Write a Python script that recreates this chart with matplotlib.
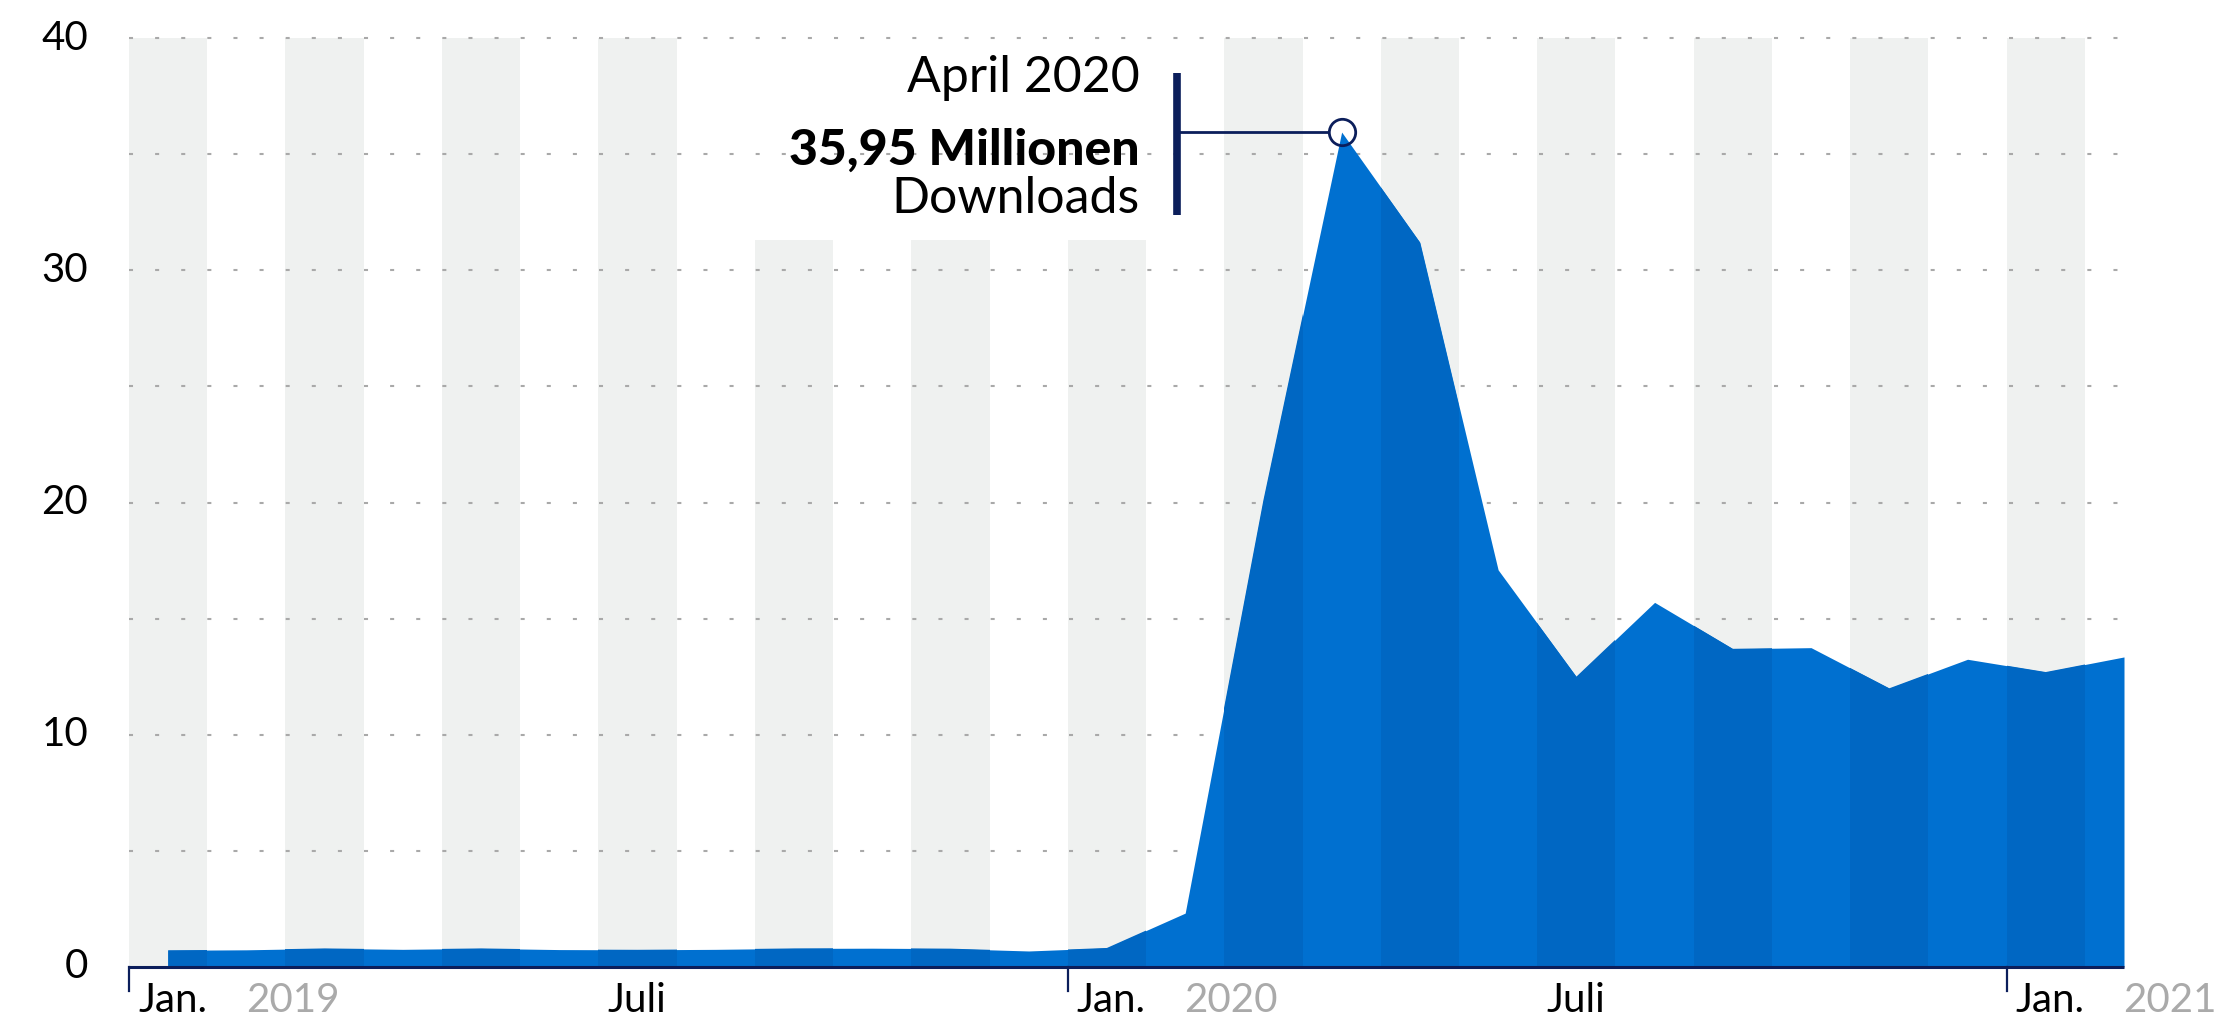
import numpy as np
import matplotlib.pyplot as plt
from matplotlib.transforms import blended_transform_factory

plt.rcParams['font.family'] = ['Lato', 'DejaVu Sans']
plt.rcParams['lines.scale_dashes'] = False

# Monthly downloads (millions), Jan 2019 - Feb 2021
months = ['2019-01', '2019-02', '2019-03', '2019-04', '2019-05', '2019-06',
          '2019-07', '2019-08', '2019-09', '2019-10', '2019-11', '2019-12',
          '2020-01', '2020-02', '2020-03', '2020-04', '2020-05', '2020-06',
          '2020-07', '2020-08', '2020-09', '2020-10', '2020-11', '2020-12',
          '2021-01', '2021-02']
downloads = [0.72, 0.74, 0.80, 0.76, 0.80, 0.75, 0.74, 0.76, 0.80, 0.81,
             0.79, 0.69, 0.82, 2.32, 20.1, 35.95, 31.2, 17.1, 12.5, 15.7,
             13.7, 13.75, 12.0, 13.25, 12.7, 13.35]

# shaded month columns (index of month start) and their top value
band_months = [0, 2, 4, 6, 8, 10, 12, 14, 16, 18, 20, 22, 24]
band_tops = [40, 40, 40, 40, 31.3, 31.3, 31.3, 40, 40, 40, 40, 40, 40]

y_ticks = [0, 10, 20, 30, 40]
grid_levels = [5, 10, 15, 20, 25, 30, 35, 40]
x_tick_pos = [0, 6, 12, 18, 24]
x_tick_month = ['Jan.', 'Juli', 'Jan.', 'Juli', 'Jan.']
x_tick_year = ['2019', '', '2020', '', '2021']

peak_label = ['April 2020', '35,95 Millionen', 'Downloads']

BLUE = '#0070d0'
BLUE_DARK = '#0067c3'
GREY_BAND = '#eff1f0'
NAVY = '#0b1e5b'
DOT = '#a9a9a9'

W, H = 2223, 1017
fig = plt.figure(figsize=(W / 100, H / 100), dpi=100)
ax = fig.add_axes([129 / W, 50 / H, 1995 / W, 929 / H])
x_end = len(months) - 0.5
ax.set_xlim(0, x_end)
ax.set_ylim(0, 40)
ax.axis('off')

# grey month columns
ax.bar(band_months, band_tops, width=1, align='edge', color=GREY_BAND,
       zorder=0, linewidth=0)

# dotted gridlines
for g in grid_levels:
    ax.plot([0, x_end], [g, g], color=DOT, lw=1.5, dashes=(2.9, 15.9),
            dash_capstyle='butt', zorder=1, clip_on=False)

# area
x = np.arange(len(downloads)) + 0.5
area = ax.fill_between(x, 0, downloads, color=BLUE, linewidth=0, zorder=2)
clip_path = area.get_paths()[0]
for m in band_months:
    r = ax.axvspan(m, m + 1, color=BLUE_DARK, linewidth=0, zorder=3)
    r.set_clip_path(clip_path, ax.transData)

# baseline axis + ticks
ax.plot([0, x_end], [0, 0], color=NAVY, lw=2.2, zorder=4, clip_on=False,
        solid_capstyle='butt')
bt = blended_transform_factory(ax.transData, ax.transAxes)
for p in x_tick_pos:
    if p in (0, 12, 24):
        ax.plot([p, p], [0, -24 / 929], color=NAVY, lw=1.6, transform=bt,
                clip_on=False, zorder=4)

# x labels
for p, mname, yr in zip(x_tick_pos, x_tick_month, x_tick_year):
    ax.annotate(mname, xy=(p, -45 / 929), xycoords=bt, xytext=(6.5, 0),
                textcoords='offset points', ha='left', va='baseline',
                fontsize=29, color='black')
    if yr:
        ax.annotate(yr, xy=(p, -45 / 929), xycoords=bt, xytext=(84, 0),
                    textcoords='offset points', ha='left', va='baseline',
                    fontsize=29, color='#aaaaaa')

# y labels
yt = blended_transform_factory(fig.transFigure, ax.transData)
for t in y_ticks:
    ax.text(88 / W, t, str(t), transform=yt, ha='right', va='center',
            fontsize=29, color='black')

# peak annotation
peak_i = int(np.argmax(downloads))
px, py = x[peak_i], downloads[peak_i]
bar_x = px - 2.1
ax.plot([bar_x, bar_x], [32.4, 38.5], color=NAVY, lw=5.5, zorder=6,
        solid_capstyle='butt')
ax.plot([bar_x, px - 0.17], [py, py], color=NAVY, lw=2, zorder=6)
ax.plot([px], [py], marker='o', markersize=19, markerfacecolor='none',
        markeredgecolor=NAVY, markeredgewidth=2, zorder=7)

fig.text(1140 / W, 1 - 92 / H, peak_label[0], ha='right', va='baseline',
         fontsize=36, color='black')
fig.text(1140 / W, 1 - 165 / H, peak_label[1], ha='right', va='baseline',
         fontsize=36, color='black', fontweight='black')
fig.text(1140 / W, 1 - 213 / H, peak_label[2], ha='right', va='baseline',
         fontsize=36, color='black')

fig.savefig('out.png', dpi=100)
